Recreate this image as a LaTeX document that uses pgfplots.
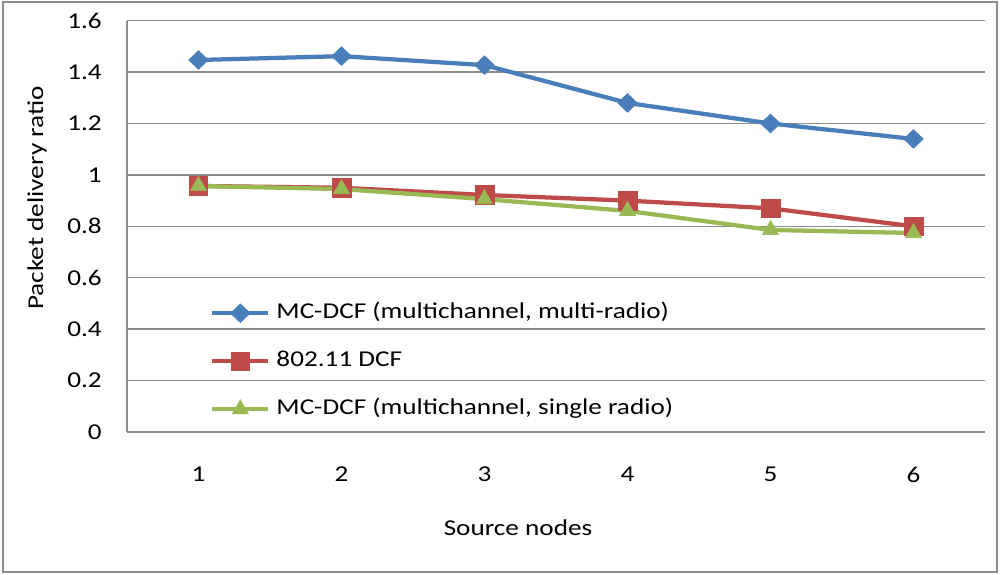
\documentclass[border=0pt]{standalone}
\usepackage{fontspec}
\setmainfont{Carlito}[FakeStretch=1.2]
\usepackage{pgfplots}
\pgfplotsset{compat=1.18}
\definecolor{cblue}{HTML}{4A7EBB}
\definecolor{cred}{HTML}{BE4B48}
\definecolor{cgreen}{HTML}{98B954}
\definecolor{cgrid}{HTML}{8C8C8C}
\begin{document}
\fontsize{17}{20}\selectfont
\begin{tikzpicture}
\path[use as bounding box] (0,0) rectangle (750pt,431.25pt);
\draw[cgrid,line width=1.5pt] (1.9pt,1.9pt) rectangle (748.1pt,429.4pt);
\begin{axis}[
  at={(95.25pt,107.25pt)}, anchor=south west,
  scale only axis, width=643.5pt, height=308.5pt,
  xmin=0.5, xmax=6.5, ymin=0, ymax=1.6,
  xtick={1,2,3,4,5,6}, ytick={0,0.2,0.4,0.6,0.8,1,1.2,1.4,1.6},
  axis x line*=bottom, axis y line*=left,
  axis line style={cgrid,line width=1.1pt,-},
  ymajorgrids, grid style={cgrid,line width=1.1pt},
  major tick length=0pt,
  tick label style={font=\fontsize{17}{20}\selectfont},
  /pgf/number format/assume math mode=true,
  yticklabel style={anchor=east,inner sep=0pt,xshift=-18.75pt},
  xticklabel style={anchor=north,inner sep=0pt,yshift=-26pt},
  yticklabel={\pgfmathprintnumber[fixed,precision=1]{\tick}},
  legend style={draw=none,fill=none,at={(0.0967,0.3153)},anchor=north west,
    inner sep=0pt,row sep=20pt,column sep=4.5pt,
    font=\fontsize{17}{20}\selectfont,
    nodes={inner sep=0pt,text height=12pt,text depth=4pt}},
  legend cell align=left,
  legend image code/.code={\draw[mark repeat=2,mark phase=2] plot coordinates {(0pt,0pt)(21pt,0pt)(42pt,0pt)};},
  clip=false,
]
\addplot[cblue,line width=3.2pt,mark=diamond*,mark size=7pt,mark options={xscale=1.4,line width=0.5pt}]
  coordinates {(1,1.447)(2,1.462)(3,1.427)(4,1.280)(5,1.200)(6,1.140)};
\addlegendentry{MC-DCF (multichannel, multi-radio)}
\addplot[cred,line width=3.2pt,mark=square*,mark size=7pt,mark options={line width=0.5pt}]
  coordinates {(1,0.957)(2,0.950)(3,0.922)(4,0.900)(5,0.870)(6,0.800)};
\addlegendentry{802.11 DCF}
\addplot[cgreen,line width=3.2pt,mark=triangle*,mark size=7pt,mark options={line width=0.5pt}]
  coordinates {(1,0.957)(2,0.945)(3,0.906)(4,0.860)(5,0.786)(6,0.774)};
\addlegendentry{MC-DCF (multichannel, single radio)}
\end{axis}
\node at (388.5pt,35.25pt) {Source nodes};
\node[rotate=90] at (27.75pt,282.75pt) {Packet delivery ratio};
\end{tikzpicture}
\end{document}
